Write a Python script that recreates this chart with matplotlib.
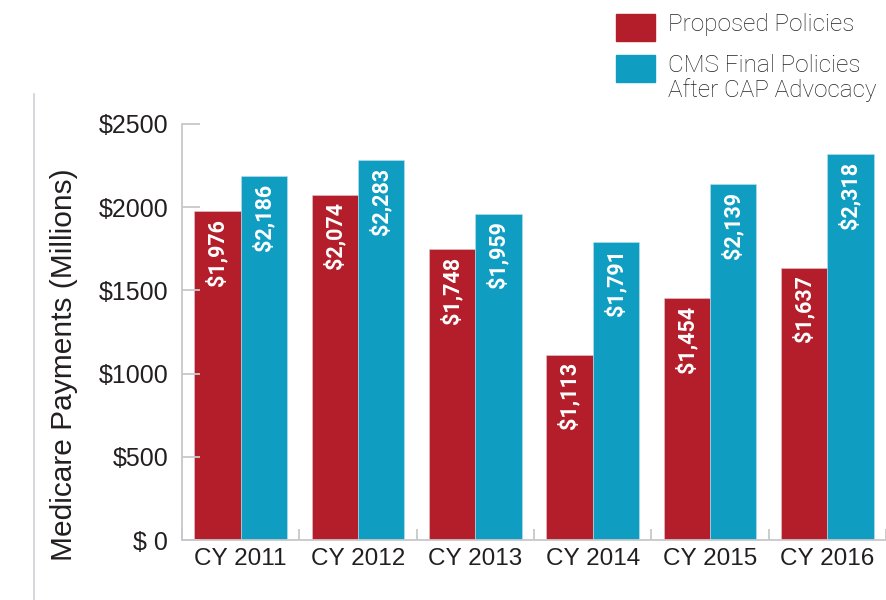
import matplotlib
matplotlib.use("Agg")
import matplotlib.pyplot as plt
import numpy as np
from matplotlib.lines import Line2D
from matplotlib.patches import Rectangle

years = ["CY 2011", "CY 2012", "CY 2013", "CY 2014", "CY 2015", "CY 2016"]
proposed = [1976, 2074, 1748, 1113, 1454, 1637]
final = [2186, 2283, 1959, 1791, 2139, 2318]
y_ticks = [0, 500, 1000, 1500, 2000, 2500]
y_labels = ["$ 0", "$500", "$1000", "$1500", "$2000", "$2500"]
series_names = ["Proposed Policies", "CMS Final Policies\nAfter CAP Advocacy"]

red = "#B31E2A"
teal = "#0F9DC2"
grey = "#C8C8CC"
txt = "#231F20"

plt.rcParams['font.family'] = ['Liberation Sans', 'DejaVu Sans']

fig = plt.figure(figsize=(8.86, 6), dpi=100)
ax = fig.add_axes([182 / 886, 0.1, 1 - 182 / 886, 416 / 600])

x = np.arange(len(years))
w = 0.395
b1 = ax.bar(x - w / 2, proposed, w, color=red, edgecolor="#e6c9cc", linewidth=0.4)
b2 = ax.bar(x + w / 2, final, w, color=teal, edgecolor="#bfe0ea", linewidth=0.4)

for bars, vals in ((b1, proposed), (b2, final)):
    for r, v in zip(bars, vals):
        ax.text(r.get_x() + r.get_width() / 2, v - 45, f"${v:,}",
                rotation=90, ha="center", va="top", color="white",
                fontsize=15.5, fontweight="bold",
                family=['Roboto', 'DejaVu Sans'])

ax.set_xlim(-0.49, 5.42)
ax.set_ylim(0, 2500)
ax.set_yticks(y_ticks)
ax.set_yticklabels(y_labels, fontsize=18, color=txt)
ax.set_xticks(np.arange(-0.5, len(years) - 0.5 + 1e-9, 1.0))
ax.set_xticklabels([])
ax.set_xticks(x, minor=True)
ax.set_xticklabels(years, minor=True, fontsize=17.5, color=txt)
ax.tick_params(axis="x", which="minor", length=0, pad=6)
ax.tick_params(axis="x", which="major", direction="in", length=8,
               color=grey, width=1.3)
ax.tick_params(axis="y", direction="in", length=13, color=grey,
               width=1.3, pad=10)

for s in ("top", "right"):
    ax.spines[s].set_visible(False)
for s in ("left", "bottom"):
    ax.spines[s].set_color(grey)
    ax.spines[s].set_linewidth(1.3)

fig.text(64 / 886, 1 - 365 / 600, "Medicare Payments (Millions)",
         rotation=90, ha="center", va="center", fontsize=21.5, color=txt)

# thin divider on the left
fig.add_artist(Line2D([34 / 886, 34 / 886], [0, 1 - 94 / 600],
                      color="#d0d0d4", linewidth=1.2))

# legend
for i, (c, name) in enumerate(zip((red, teal), series_names)):
    top = 14 + i * 41
    fig.add_artist(Rectangle((616 / 886, 1 - (top + 27) / 600), 39 / 886, 27 / 600,
                             transform=fig.transFigure, color=c))
    fig.text(668 / 886, 1 - (top - 1) / 600, name, ha="left", va="top",
             fontsize=17.5, color="#222222", linespacing=1.05,
             family=['Roboto', 'DejaVu Sans'], fontweight="light")

fig.savefig("out.png", dpi=100)
